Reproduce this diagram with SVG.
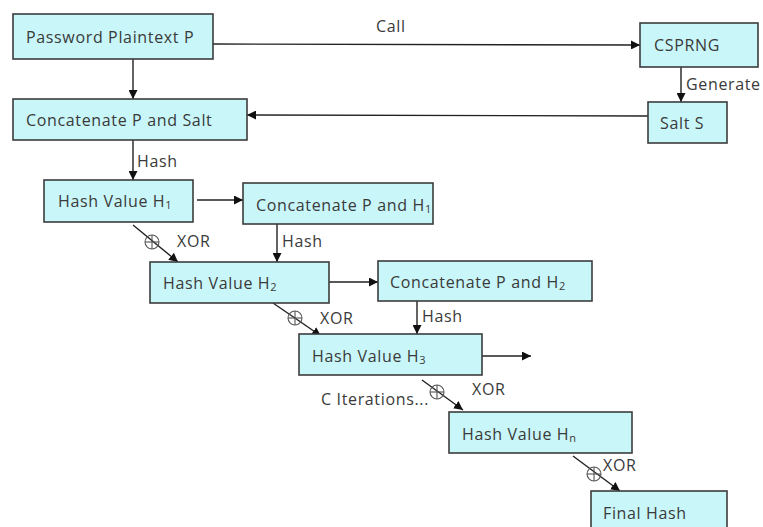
<svg xmlns="http://www.w3.org/2000/svg" width="763" height="527" viewBox="0 0 763 527">
<style>
.box{fill:#c9f6f8;stroke:#3c3c3c;stroke-width:1.6}
text{font-family:"Open Sans","Noto Sans","Liberation Sans",sans-serif;font-size:16px;letter-spacing:0.65px;fill:#3a3a3a}
.sub{font-size:11px;letter-spacing:0}
.ln{stroke:#222;stroke-width:1.4;fill:none}
.xor{stroke:#555;stroke-width:1.1;fill:none}
</style>
<defs>
<marker id="ah" viewBox="0 0 10 10" refX="10" refY="5" markerWidth="9" markerHeight="9" markerUnits="userSpaceOnUse" orient="auto">
<path d="M0,0 L10,5 L0,10 z" fill="#111"/>
</marker>
<g id="xorsym"><circle r="7" class="xor"/><line x1="-7" y1="0" x2="7" y2="0" class="xor"/><line x1="0" y1="-7" x2="0" y2="7" class="xor"/></g>
</defs>
<rect width="763" height="527" fill="#fff"/>
<g id="connectors">
<line x1="213" y1="44" x2="640" y2="45" class="ln" marker-end="url(#ah)"/>
<text x="376" y="32">Call</text>
<line x1="133" y1="59" x2="133" y2="99" class="ln" marker-end="url(#ah)"/>
<line x1="681" y1="67" x2="681" y2="102" class="ln" marker-end="url(#ah)"/>
<text x="686" y="90">Generate</text>
<line x1="648" y1="116" x2="247" y2="115" class="ln" marker-end="url(#ah)"/>
<line x1="133" y1="140" x2="133" y2="180" class="ln" marker-end="url(#ah)"/>
<text x="137" y="167">Hash</text>
<line x1="197" y1="200" x2="243" y2="200" class="ln" marker-end="url(#ah)"/>
<line x1="277" y1="224" x2="277" y2="262" class="ln" marker-end="url(#ah)"/>
<text x="282" y="247">Hash</text>
<line x1="133" y1="225" x2="178" y2="262" class="ln" marker-end="url(#ah)"/>
<use href="#xorsym" x="152" y="242"/>
<text x="177" y="247">XOR</text>
<line x1="329" y1="282" x2="378" y2="282" class="ln" marker-end="url(#ah)"/>
<line x1="417" y1="301" x2="417" y2="334" class="ln" marker-end="url(#ah)"/>
<text x="422" y="322">Hash</text>
<line x1="273" y1="303" x2="321" y2="336" class="ln" marker-end="url(#ah)"/>
<use href="#xorsym" x="295" y="318"/>
<text x="320" y="324">XOR</text>
<line x1="482" y1="356" x2="531" y2="356" class="ln" marker-end="url(#ah)"/>
<line x1="422" y1="380" x2="463" y2="410" class="ln" marker-end="url(#ah)"/>
<use href="#xorsym" x="437" y="392"/>
<text x="472" y="395">XOR</text>
<text x="321" y="405">C Iterations...</text>
<line x1="573" y1="456" x2="620" y2="491" class="ln" marker-end="url(#ah)"/>
<use href="#xorsym" x="594" y="474"/>
<text x="603" y="471">XOR</text>
</g>
<g id="password"><rect x="13" y="14" width="200" height="45" class="box"/><text x="26" y="43">Password Plaintext P</text></g>
<g id="csprng"><rect x="640" y="23" width="118" height="44" class="box"/><text x="654" y="51">CSPRNG</text></g>
<g id="concatSalt"><rect x="13" y="99" width="234" height="41" class="box"/><text x="26" y="126">Concatenate P and Salt</text></g>
<g id="salt"><rect x="648" y="102" width="79" height="41" class="box"/><text x="660" y="129">Salt S</text></g>
<g id="h1"><rect x="44" y="180" width="149" height="42" class="box"/><text x="58" y="207">Hash Value H<tspan class="sub" dy="2">1</tspan></text></g>
<g id="concatH1"><rect x="243" y="183" width="190" height="41" class="box"/><text x="256" y="211">Concatenate P and H<tspan class="sub" dy="2">1</tspan></text></g>
<g id="h2"><rect x="150" y="262" width="179" height="41" class="box"/><text x="163" y="289">Hash Value H<tspan class="sub" dy="2">2</tspan></text></g>
<g id="concatH2"><rect x="378" y="261" width="214" height="40" class="box"/><text x="390" y="288">Concatenate P and H<tspan class="sub" dy="2">2</tspan></text></g>
<g id="h3"><rect x="299" y="334" width="183" height="41" class="box"/><text x="312" y="362">Hash Value H<tspan class="sub" dy="2">3</tspan></text></g>
<g id="hn"><rect x="449" y="412" width="183" height="41" class="box"/><text x="462" y="440">Hash Value H<tspan class="sub" dy="2">n</tspan></text></g>
<g id="final"><rect x="591" y="491" width="136" height="45" class="box"/><text x="603" y="519">Final Hash</text></g>
</svg>
